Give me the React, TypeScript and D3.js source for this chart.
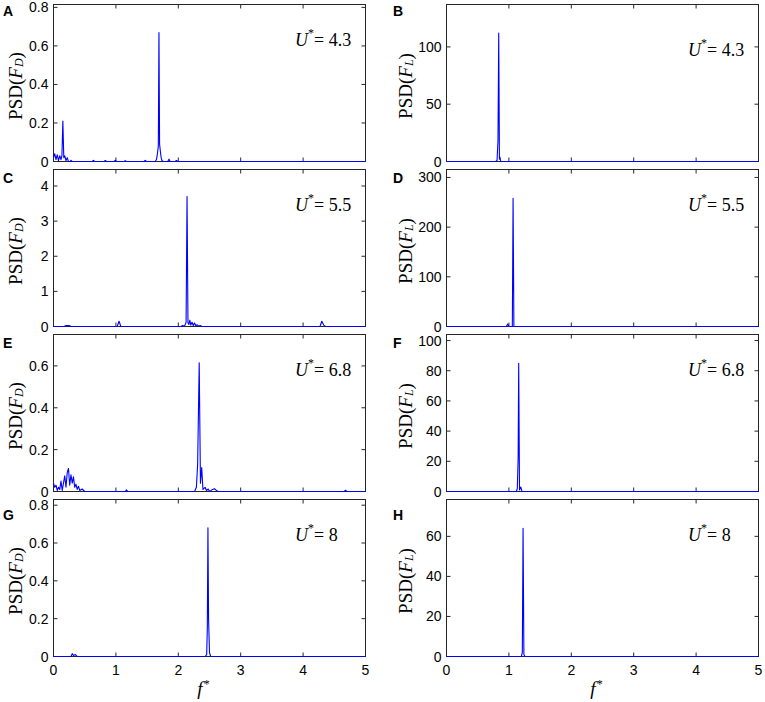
import React from "react";
import * as d3 from "d3";

// frequency axis shared by every panel
const freqTicks = [0, 1, 2, 3, 4, 5];

// drag spectra (left column) as [f*, PSD] pairs
const dragU43: [number, number][] = [
    [0, 0.02], [0.02, 0.04], [0.04, 0.01], [0.06, 0.035], [0.08, 0.005], [0.1, 0.03], [0.12, 0.01],
    [0.135, 0.03], [0.15, 0.21], [0.165, 0.02], [0.18, 0.03], [0.2, 0.005], [0.22, 0.02], [0.24, 0],
    [0.27, 0], [0.28, 0.006], [0.3, 0], [0.62, 0], [0.64, 0.006], [0.66, 0], [0.81, 0], [0.83, 0.005],
    [0.85, 0], [0.97, 0], [0.99, 0.006], [1.01, 0], [1.13, 0], [1.15, 0.004], [1.17, 0], [1.45, 0],
    [1.47, 0.006], [1.49, 0], [1.63, 0], [1.65, 0.01], [1.665, 0.04], [1.68, 0.08], [1.69, 0.67],
    [1.7, 0.09], [1.71, 0.06], [1.725, 0.02], [1.74, 0.004], [1.76, 0], [1.83, 0], [1.85, 0.012],
    [1.87, 0], [1.95, 0], [1.97, 0.005], [1.99, 0], [5, 0],
];
const dragU55: [number, number][] = [
    [0, 0], [0.17, 0], [0.2, 0.03], [0.25, 0.03], [0.28, 0], [1.02, 0], [1.05, 0.15], [1.08, 0],
    [2.04, 0], [2.07, 0.03], [2.1, 0.01], [2.125, 0.12], [2.14, 3.7], [2.155, 0.1], [2.17, 0.06],
    [2.185, 0.18], [2.2, 0.04], [2.22, 0.12], [2.24, 0.03], [2.26, 0.1], [2.28, 0.02], [2.3, 0.05],
    [2.33, 0.01], [2.35, 0.03], [2.38, 0], [4.27, 0], [4.3, 0.15], [4.33, 0.04], [4.36, 0], [5, 0],
];
const dragU68: [number, number][] = [
    [0, 0.04], [0.02, 0.02], [0.04, 0.03], [0.06, 0.005], [0.08, 0.02], [0.1, 0.01], [0.12, 0.05],
    [0.14, 0.005], [0.16, 0.04], [0.18, 0.075], [0.2, 0.02], [0.22, 0.09], [0.24, 0.11], [0.26, 0.03],
    [0.28, 0.08], [0.3, 0.04], [0.32, 0.07], [0.34, 0.02], [0.36, 0.035], [0.38, 0.01], [0.4, 0.025],
    [0.42, 0.005], [0.46, 0.012], [0.5, 0], [1.15, 0], [1.17, 0.008], [1.19, 0], [2.26, 0], [2.29, 0.02],
    [2.31, 0.13], [2.335, 0.615], [2.355, 0.04], [2.375, 0.115], [2.395, 0.01], [2.43, 0.02],
    [2.45, 0.005], [2.48, 0.012], [2.5, 0], [2.55, 0.01], [2.58, 0.013], [2.61, 0.005], [2.64, 0],
    [4.66, 0], [4.68, 0.006], [4.7, 0], [5, 0],
];
const dragU8: [number, number][] = [
    [0, 0], [0.28, 0], [0.3, 0.015], [0.32, 0.005], [0.35, 0.01], [0.38, 0], [2.43, 0], [2.455, 0.01],
    [2.465, 0.15], [2.475, 0.68], [2.485, 0.2], [2.5, 0.02], [2.52, 0], [5, 0],
];

// lift spectra (right column)
const liftU43: [number, number][] = [
    [0, 0], [0.79, 0], [0.81, 1], [0.825, 18], [0.837, 112], [0.848, 2], [0.855, 4], [0.87, 0], [5, 0],
];
const liftU55: [number, number][] = [
    [0, 0], [0.96, 0], [0.98, 5], [1.0, 0], [1.055, 0], [1.067, 258], [1.08, 0], [5, 0],
];
const liftU68: [number, number][] = [
    [0, 0], [1.12, 0], [1.135, 2], [1.148, 22], [1.157, 85], [1.17, 1], [1.19, 3], [1.21, 0], [5, 0],
];
const liftU8: [number, number][] = [
    [0, 0], [1.2, 0], [1.215, 2], [1.227, 64], [1.24, 1], [1.26, 0], [5, 0],
];

// y-axis limits and ticks
const yMaxDrag = [0.815, 4.47, 0.75, 0.83];
const yTicksDrag = [[0, 0.2, 0.4, 0.6, 0.8], [0, 1, 2, 3, 4], [0, 0.2, 0.4, 0.6], [0, 0.2, 0.4, 0.6, 0.8]];
const yMaxLift = [137, 316, 104, 78.4];
const yTicksLift = [[0, 50, 100], [0, 100, 200, 300], [0, 20, 40, 60, 80, 100], [0, 20, 40, 60]];
const reducedVelocity = ["4.3", "5.5", "6.8", "8"];
const lettersDrag = ["A", "C", "E", "G"];
const lettersLift = ["B", "D", "F", "H"];

const dragSeries = [dragU43, dragU55, dragU68, dragU8];
const liftSeries = [liftU43, liftU55, liftU68, liftU8];

const W = 765, H = 702;
const colX = [53.5, 446.5];
const axW = 312;
const rowTop = [4.5, 169.5, 334.5, 499.5];
const axH = 157;
const letterDy = [11, 13, 13, 20];
const serif = "'Liberation Serif', 'Times New Roman', serif";
const sans = "'Liberation Sans', Arial, sans-serif";
const frameColor = "#262626";
const tickLen = 4;

type PanelProps = {
    col: number; row: number; data: [number, number][]; yMax: number; yTicks: number[];
    letter: string; force: string; speed: string;
};

function Panel({ col, row, data, yMax, yTicks, letter, force, speed }: PanelProps) {
    const x0 = colX[col], y0 = rowTop[row];
    const x = d3.scaleLinear().domain([0, 5]).range([x0, x0 + axW]);
    const y = d3.scaleLinear().domain([0, yMax]).range([y0 + axH, y0]);
    const line = d3.line<[number, number]>().x(d => x(d[0])).y(d => y(d[1]));
    const bottom = row === 3;
    const mid = y0 + axH / 2 + 3;
    const labelX = col === 0 ? 15 : 405;
    const uX = col === 0 ? 295 : 688;
    const uY = y0 + (col === 1 && row === 0 ? 51 : 41);
    return (
        <g>
            {/* ticks on all four sides, pointing inward */}
            {freqTicks.map(t => (
                <g key={"x" + t} stroke={frameColor} strokeWidth={1}>
                    <line x1={x(t)} x2={x(t)} y1={y0 + axH} y2={y0 + axH - tickLen} />
                    <line x1={x(t)} x2={x(t)} y1={y0} y2={y0 + tickLen} />
                </g>
            ))}
            {yTicks.map(t => (
                <g key={"y" + t} stroke={frameColor} strokeWidth={1}>
                    <line x1={x0} x2={x0 + tickLen} y1={y(t)} y2={y(t)} />
                    <line x1={x0 + axW} x2={x0 + axW - tickLen} y1={y(t)} y2={y(t)} />
                </g>
            ))}
            <rect x={x0} y={y0} width={axW} height={axH} fill="none" stroke={frameColor} strokeWidth={1} />
            {yTicks.map(t => (
                <text key={"yl" + t} x={x0 - 5} y={y(t)} textAnchor="end" dominantBaseline="central"
                    fontFamily={sans} fontSize={14} fill="#000">{String(t)}</text>
            ))}
            {bottom && freqTicks.map(t => (
                <text key={"xl" + t} x={x(t)} y={y0 + axH + 18} textAnchor="middle"
                    fontFamily={sans} fontSize={14} fill="#000">{String(t)}</text>
            ))}
            {bottom && (
                <text x={x0 + axW / 2 - 6} y={y0 + axH + 38} textAnchor="middle" fontFamily={serif} fontSize={19}>
                    <tspan fontStyle="italic">f</tspan>
                    <tspan fontSize={12} dy={-7} dx={1}>*</tspan>
                </text>
            )}
            <path d={line(data) ?? ""} fill="none" stroke="#0000ff" strokeWidth={1.1} strokeLinejoin="round" />
            <text transform={`translate(${labelX},${mid}) rotate(-90)`} textAnchor="middle"
                dominantBaseline="central" fontFamily={serif} fontSize={19}>
                PSD(<tspan fontStyle="italic">F</tspan>
                <tspan fontStyle="italic" fontSize={12} dy={4}>{force}</tspan>
                <tspan dy={-4}>)</tspan>
            </text>
            <text x={uX} y={uY} fontFamily={serif} fontSize={18}>
                <tspan fontStyle="italic">U</tspan>
                <tspan fontSize={12} dy={-9} dx={0}>*</tspan>
                <tspan dy={9} dx={0}>= {speed}</tspan>
            </text>
            <text x={col === 0 ? 3 : 393} y={y0 + letterDy[row]} fontFamily={sans} fontWeight="bold" fontSize={14}>
                {letter}
            </text>
        </g>
    );
}

export default function App() {
    return (
        <svg width={W} height={H} viewBox={`0 0 ${W} ${H}`}
            style={{ position: "absolute", left: 0, top: 0, background: "#fff" }}>
            <rect width={W} height={H} fill="#fff" />
            {reducedVelocity.map((u, i) => (
                <g key={u}>
                    <Panel col={0} row={i} data={dragSeries[i]} yMax={yMaxDrag[i]} yTicks={yTicksDrag[i]}
                        letter={lettersDrag[i]} force="D" speed={u} />
                    <Panel col={1} row={i} data={liftSeries[i]} yMax={yMaxLift[i]} yTicks={yTicksLift[i]}
                        letter={lettersLift[i]} force="L" speed={u} />
                </g>
            ))}
        </svg>
    );
}
